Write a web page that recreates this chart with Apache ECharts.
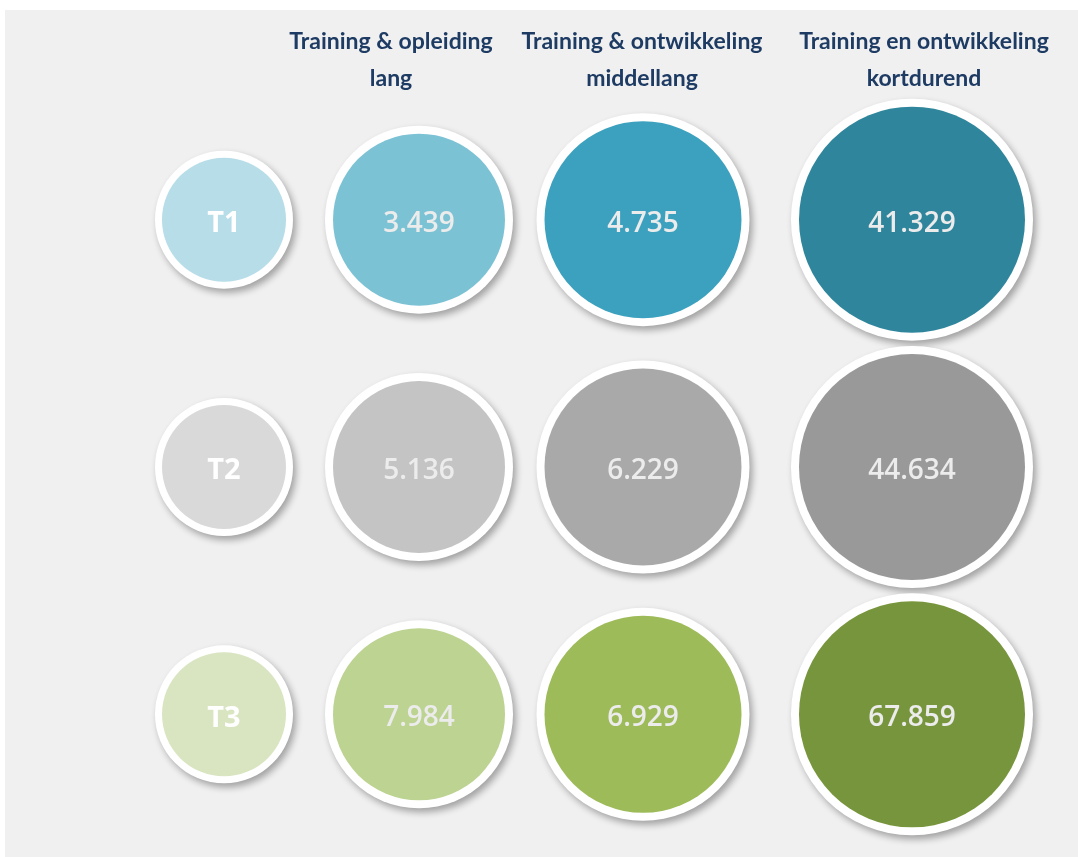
<!DOCTYPE html>
<html>
<head>
<meta charset="utf-8">
<script src="https://cdn.jsdelivr.net/npm/echarts@6/dist/echarts.min.js"></script>
<style>
  html, body { margin: 0; padding: 0; background: #fff; }
  #chart {
    position: absolute;
    left: 5px;
    top: 10px;
    width: 1073px;
    height: 847px;
    background: #f0f0f0;
  }
</style>
</head>
<body>
<div id="chart"></div>
<script>
// data
const rowLabels = ['T1', 'T2', 'T3']
const columnTitles = [
  '',
  'Training & opleiding\nlang',
  'Training & ontwikkeling\nmiddellang',
  'Training en ontwikkeling\nkortdurend',
]
const opleidingLang = [3439, 5136, 7984]
const ontwikkelingMiddellang = [4735, 6229, 6929]
const ontwikkelingKortdurend = [41329, 44634, 67859]

// styles per row (T1 blue, T2 grey, T3 green), per column
const rowColors = [
  ['#b6dde8', '#7cc2d5', '#3ca1be', '#2f869c'],
  ['#d9d9d9', '#c4c4c4', '#a9a9a9', '#999999'],
  ['#d9e5c0', '#bcd391', '#9dbb59', '#77953c'],
]
// outer = white ring diameter, inner = coloured disc diameter
const columnLayout = [
  { center: 219, width: 160, outer: 138, inner: 124, labelPad: [0, 0, 0, 0] },
  { center: 414, width: 200, outer: 188, inner: 172, labelPad: [0, 56, 0, 0] },
  { center: 638, width: 220, outer: 213, inner: 197, labelPad: [0, 2, 0, 0] },
  { center: 907, width: 260, outer: 242, inner: 226, labelPad: [0, 0, 0, 24] },
]

const columnValues = [null, opleidingLang, ontwikkelingMiddellang, ontwikkelingKortdurend]

function fmt(n) {
  return String(n).replace(/\B(?=(\d{3})+(?!\d))/g, '.')
}

const chart = echarts.init(document.getElementById('chart'))

const grids = [], xAxes = [], yAxes = [], series = []
columnLayout.forEach((col, c) => {
  grids.push({ left: col.center - col.width / 2, width: col.width, top: 86, height: 742 })
  xAxes.push({
    type: 'category',
    gridIndex: c,
    position: 'top',
    data: [columnTitles[c]],
    axisLine: { show: false },
    axisTick: { show: false },
    axisLabel: {
      color: '#1d3b63',
      fontFamily: 'Lato',
      fontWeight: 'bold',
      fontSize: 23,
      lineHeight: 37,
      margin: -1,
      padding: col.labelPad,
    },
  })
  yAxes.push({
    type: 'category',
    gridIndex: c,
    inverse: true,
    data: rowLabels,
    show: false,
  })
  // white ring with drop shadow
  series.push({
    type: 'scatter',
    xAxisIndex: c,
    yAxisIndex: c,
    symbol: 'circle',
    symbolSize: col.outer,
    data: rowLabels.map((r, i) => [0, i]),
    itemStyle: {
      opacity: 1,
      color: '#ffffff',
      shadowColor: 'rgba(0,0,0,0.33)',
      shadowBlur: 7,
      shadowOffsetX: 3,
      shadowOffsetY: 4,
    },
    silent: true,
    z: 1,
  })
  // coloured disc with value
  series.push({
    type: 'scatter',
    xAxisIndex: c,
    yAxisIndex: c,
    symbol: 'circle',
    symbolSize: col.inner,
    data: rowLabels.map((r, i) => ({
      value: [0, i],
      name: c === 0 ? r : fmt(columnValues[c][i]),
      itemStyle: { color: rowColors[i][c] },
    })),
    itemStyle: { opacity: 1 },
    label: {
      show: true,
      position: 'inside',
      offset: [0, 4],
      formatter: p => p.name,
      color: c === 0 ? '#ffffff' : '#ececec',
      fontFamily: 'Open Sans',
      fontWeight: c === 0 ? 'bold' : 600,
      fontSize: c === 0 ? 29 : 28,
    },
    emphasis: { disabled: true },
    z: 2,
  })
})

chart.setOption({
  animation: false,
  grid: grids,
  xAxis: xAxes,
  yAxis: yAxes,
  series: series,
})
</script>
</body>
</html>
